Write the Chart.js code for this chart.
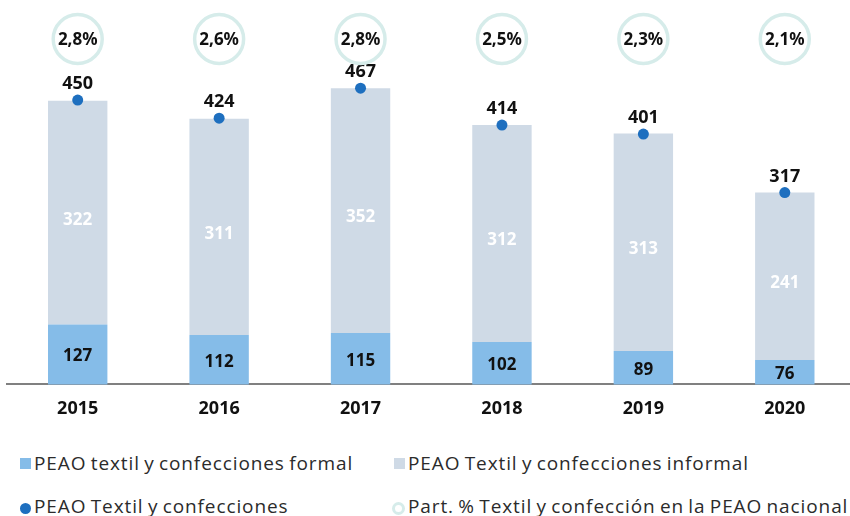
<!DOCTYPE html>
<html lang="es">
<head>
    <meta charset="UTF-8">
    <title>PEAO Textil y confecciones</title>
    <script src="https://cdn.jsdelivr.net/npm/chart.js"></script>
    <style>
        body { margin: 0; width: 850px; height: 516px; overflow: hidden; background: #fff; position: relative; }
        #wrap { position: absolute; left: 0; top: 0; width: 861px; height: 434px; }
        .legend { position: absolute; font-family: "Open Sans", sans-serif; font-size: 19px; line-height: 20px; color: #2b2b2b; white-space: nowrap; letter-spacing: 0.9px; word-spacing: -1.5px; }
        .mk { position: absolute; box-sizing: border-box; }
    </style>
</head>
<body>
    <div id="wrap"><canvas id="chart"></canvas></div>

    <!-- legend -->
    <div class="mk" style="left:20px; top:458px; width:11px; height:11px; background:#85bce8;"></div>
    <div class="legend" style="left:34px; top:453px;">PEAO textil y confecciones formal</div>
    <div class="mk" style="left:394px; top:458px; width:11px; height:11px; background:#cfdae6;"></div>
    <div class="legend" style="left:408px; top:453px;">PEAO Textil y confecciones informal</div>
    <div class="mk" style="left:20px; top:503px; width:11px; height:11px; border-radius:50%; background:#1e6fbf;"></div>
    <div class="legend" style="left:34px; top:496px;">PEAO Textil y confecciones</div>
    <div class="mk" style="left:392px; top:502px; width:13px; height:13px; border-radius:50%; border:3.5px solid #d6ecea;"></div>
    <div class="legend" style="left:408px; top:496px;">Part. % Textil y confección en la PEAO nacional</div>

    <script>
        const years = ['2015', '2016', '2017', '2018', '2019', '2020'];
        const formal = [127, 112, 115, 102, 89, 76];
        const informal = [322, 311, 352, 312, 313, 241];
        const total = [450, 424, 467, 414, 401, 317];
        const share = [2.8, 2.6, 2.8, 2.5, 2.3, 2.1];

        const FONT = '"Noto Sans", sans-serif';

        function pct(v) {
            return v.toFixed(1).replace('.', ',') + '%';
        }

        // value labels + the percentage circles on top
        const labelPlugin = {
            id: 'labels',
            afterDatasetsDraw(chart) {
                const ctx = chart.ctx;
                const xScale = chart.scales.x;
                const bottom = chart.chartArea.bottom;
                ctx.save();
                ctx.textAlign = 'center';
                ctx.textBaseline = 'middle';
                ctx.font = 'bold 17px ' + FONT;

                chart.getDatasetMeta(0).data.forEach((bar, i) => {
                    const base = Math.min(bar.base, bottom);
                    ctx.fillStyle = '#111';
                    ctx.fillText(formal[i], bar.x, (bar.y + base) / 2 + 2);
                });
                chart.getDatasetMeta(1).data.forEach((bar, i) => {
                    ctx.fillStyle = '#fff';
                    ctx.fillText(informal[i], bar.x, (bar.y + bar.base) / 2 + 7);
                });
                ctx.font = 'bold 18px ' + FONT;
                chart.getDatasetMeta(2).data.forEach((pt, i) => {
                    ctx.fillStyle = '#111';
                    ctx.fillText(total[i], pt.x, pt.y - 16);
                });

                ctx.font = 'bold 17px ' + FONT;
                share.forEach((v, i) => {
                    const x = xScale.getPixelForValue(i);
                    const y = 39;
                    ctx.beginPath();
                    ctx.arc(x, y, 24.5, 0, 2 * Math.PI);
                    ctx.fillStyle = '#fff';
                    ctx.fill();
                    ctx.lineWidth = 3.5;
                    ctx.strokeStyle = '#d6ecea';
                    ctx.stroke();
                    ctx.fillStyle = '#111';
                    ctx.fillText(pct(v), x, y + 1);
                });
                ctx.restore();
            }
        };

        new Chart(document.getElementById('chart'), {
            type: 'bar',
            data: {
                labels: years,
                datasets: [
                    {
                        label: 'PEAO textil y confecciones formal',
                        data: formal,
                        backgroundColor: '#85bce8',
                        stack: 'peao',
                        order: 2
                    },
                    {
                        label: 'PEAO Textil y confecciones informal',
                        data: informal,
                        backgroundColor: '#cfdae6',
                        stack: 'peao',
                        order: 2
                    },
                    {
                        type: 'line',
                        label: 'PEAO Textil y confecciones',
                        data: total,
                        showLine: false,
                        pointRadius: 5.5,
                        pointBackgroundColor: '#1e6fbf',
                        pointBorderWidth: 0,
                        stack: 'total',
                        order: 1
                    }
                ]
            },
            options: {
                responsive: true,
                maintainAspectRatio: false,
                animation: false,
                datasets: {
                    bar: { categoryPercentage: 1, barPercentage: 0.42 }
                },
                layout: { padding: { left: 7, right: 0, top: 0, bottom: 0 } },
                plugins: {
                    legend: { display: false },
                    tooltip: { enabled: false }
                },
                scales: {
                    x: {
                        stacked: true,
                        grid: { display: false, drawTicks: false },
                        border: { display: true, color: '#808080', width: 2 },
                        ticks: {
                            padding: 14,
                            color: '#111',
                            font: { family: FONT, size: 18, weight: 'bold' }
                        }
                    },
                    y: {
                        stacked: true,
                        display: false,
                        min: 41,
                        max: 586
                    }
                }
            },
            plugins: [labelPlugin]
        });
    </script>
</body>
</html>
